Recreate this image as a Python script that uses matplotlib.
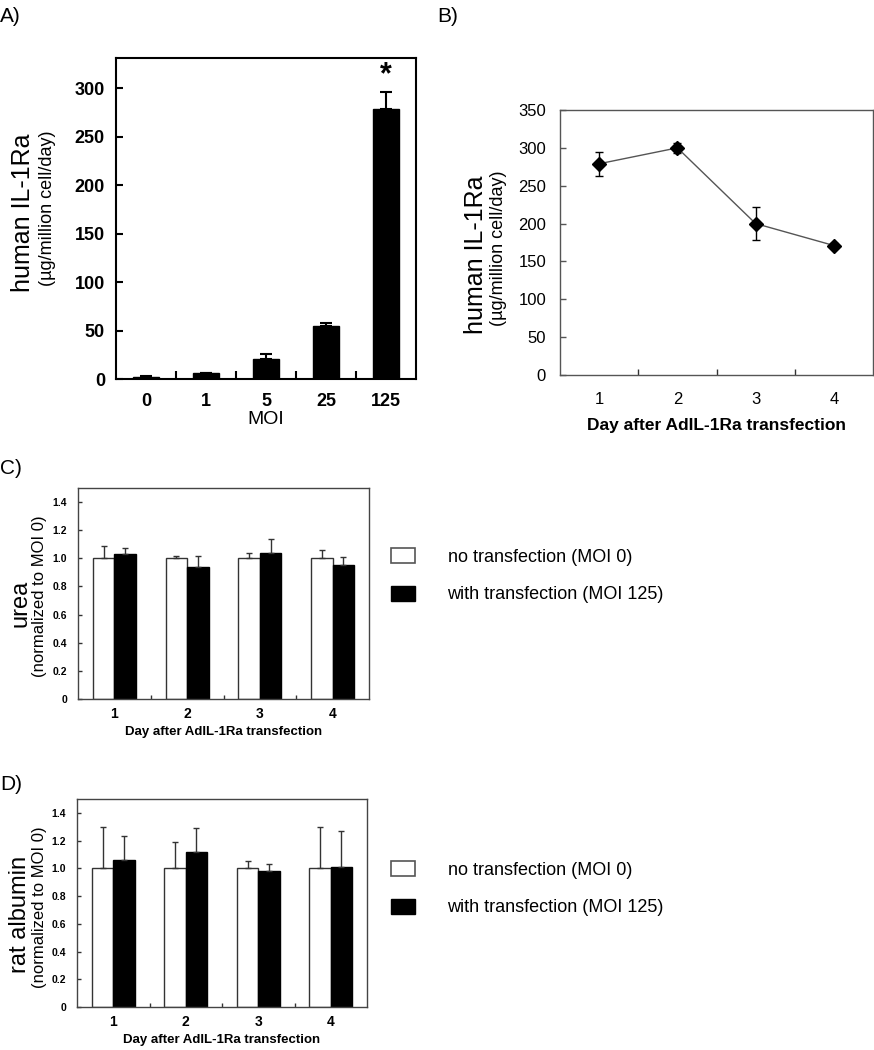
import matplotlib
matplotlib.use("Agg")
import matplotlib.pyplot as plt
from matplotlib.patches import Patch
import numpy as np

plt.rcParams['font.family'] = ['Liberation Sans', 'DejaVu Sans']

W, H = 874, 1050

# ---- data ----
moi_labels = ["0", "1", "5", "25", "125"]
il1ra_moi = [2, 6, 21, 55, 278]
il1ra_moi_err = [1, 0.5, 5, 2.5, 18]

days = [1, 2, 3, 4]
day_labels = ["1", "2", "3", "4"]
il1ra_day = [279, 300, 200, 171]
il1ra_day_err = [16, 7, 22, 3]

urea_ctrl = [1.0, 1.0, 1.0, 1.0]
urea_ctrl_err = [0.09, 0.02, 0.04, 0.06]
urea_trans = [1.03, 0.94, 1.04, 0.95]
urea_trans_err = [0.04, 0.08, 0.10, 0.06]

alb_ctrl = [1.0, 1.0, 1.0, 1.0]
alb_ctrl_err = [0.30, 0.19, 0.05, 0.30]
alb_trans = [1.06, 1.12, 0.98, 1.01]
alb_trans_err = [0.17, 0.17, 0.05, 0.26]

legend_labels = ["no transfection (MOI 0)", "with transfection (MOI 125)"]

fig = plt.figure(figsize=(W / 100, H / 100), dpi=100)


def ax_at(left, top, right, bottom):
    return fig.add_axes([left / W, 1 - bottom / H, (right - left) / W, (bottom - top) / H])


def ftext(px, py, s, **kw):
    fig.text(px / W, 1 - py / H, s, **kw)


# ---- Panel A ----
axA = ax_at(116, 58, 416, 379)
xA = np.arange(len(moi_labels))
axA.bar(xA, il1ra_moi, width=0.42, color='black', edgecolor='black',
        yerr=[np.zeros(len(xA)), il1ra_moi_err], capsize=4.5,
        error_kw=dict(ecolor='black', elinewidth=1.5, capthick=1.5))
axA.set_xlim(-0.5, 4.5)
axA.set_ylim(0, 331)
axA.set_yticks([0, 50, 100, 150, 200, 250, 300])
axA.set_xticks(xA)
axA.set_xticklabels(moi_labels, fontsize=13, fontweight='bold')
axA.set_xticks(np.arange(0.5, 4.0, 1.0), minor=True)
axA.tick_params(axis='x', which='major', length=0, pad=10)
axA.tick_params(axis='x', which='minor', direction='in', length=6, width=1.5)
axA.tick_params(axis='y', direction='in', length=5, width=1.5, pad=8)
for lab in axA.get_yticklabels():
    lab.set_fontsize(13)
    lab.set_fontweight('bold')
for s in axA.spines.values():
    s.set_linewidth(1.5)
axA.set_xlabel("MOI", fontsize=14, labelpad=1)
axA.text(4, il1ra_moi[4] + il1ra_moi_err[4] + 2, "*", ha='center', va='bottom',
         fontsize=22, fontweight='bold')
ftext(23, 213, "human IL-1Ra", rotation=90, ha='center', va='center', fontsize=18)
ftext(48, 208, "(\u00b5g/million cell/day)", rotation=90, ha='center', va='center', fontsize=13)
ftext(0, 17, "A)", ha='left', va='center', fontsize=15)

# ---- Panel B ----
axB = ax_at(560, 110, 873, 375)
axB.errorbar(days, il1ra_day, yerr=il1ra_day_err, fmt='-', color='#555555', lw=1,
             ecolor='black', elinewidth=1, capsize=3, capthick=1, zorder=2)
axB.plot(days, il1ra_day, linestyle='none', marker='D', color='black', markersize=7, zorder=3)
axB.set_xlim(0.5, 4.5)
axB.set_ylim(0, 350)
axB.set_yticks(np.arange(0, 351, 50))
axB.set_xticks(days)
axB.set_xticklabels(day_labels, fontsize=12)
axB.set_xticks([1.5, 2.5, 3.5], minor=True)
axB.tick_params(axis='x', which='major', length=0, pad=12)
axB.tick_params(axis='x', which='minor', direction='in', length=4, width=1, color='#333333')
axB.tick_params(axis='y', direction='in', length=4, width=1, labelsize=12, pad=10, color='#555555')
for s in axB.spines.values():
    s.set_color('#555555')
    s.set_linewidth(1)
axB.set_xlabel("Day after AdIL-1Ra transfection", fontsize=12.5, fontweight='bold', labelpad=8)
ftext(476, 255, "human IL-1Ra", rotation=90, ha='center', va='center', fontsize=18)
ftext(498, 248, "(\u00b5g/million cell/day)", rotation=90, ha='center', va='center', fontsize=13)
ftext(437, 17, "B)", ha='left', va='center', fontsize=15)


# ---- Panels C & D ----
def grouped(ax, ctrl, ctrl_err, trans, trans_err):
    x = np.array(days, dtype=float)
    w = 0.295
    ax.bar(x - w / 2, ctrl, width=w, color='white', edgecolor='#333333', linewidth=1,
           yerr=[np.zeros(len(x)), ctrl_err], capsize=2,
           error_kw=dict(ecolor='#333333', elinewidth=1, capthick=1))
    ax.bar(x + w / 2, trans, width=w, color='black', edgecolor='black', linewidth=1,
           yerr=[np.zeros(len(x)), trans_err], capsize=2,
           error_kw=dict(ecolor='#333333', elinewidth=1, capthick=1))
    ax.set_xlim(0.5, 4.5)
    ax.set_ylim(0, 1.5)
    ax.set_yticks([0, 0.2, 0.4, 0.6, 0.8, 1.0, 1.2, 1.4])
    ax.set_yticklabels(["0", "0.2", "0.4", "0.6", "0.8", "1.0", "1.2", "1.4"],
                       fontsize=7.5, fontweight='bold')
    ax.set_xticks(days)
    ax.set_xticklabels(day_labels, fontsize=10, fontweight='bold')
    ax.set_xticks([1.5, 2.5, 3.5], minor=True)
    ax.tick_params(axis='x', which='major', length=0, pad=6)
    ax.tick_params(axis='x', which='minor', direction='in', length=3, width=1, color='#333333')
    ax.tick_params(axis='y', direction='in', length=3, width=1, pad=8, color='#333333')
    for s in ax.spines.values():
        s.set_color('#444444')
        s.set_linewidth(1)
    ax.set_xlabel("Day after AdIL-1Ra transfection", fontsize=9.5, fontweight='bold', labelpad=3)


axC = ax_at(78, 488, 369, 699)
grouped(axC, urea_ctrl, urea_ctrl_err, urea_trans, urea_trans_err)
ftext(20, 603, "urea", rotation=90, ha='center', va='center', fontsize=17)
ftext(40, 596, "(normalized to MOI 0)", rotation=90, ha='center', va='center', fontsize=12)
ftext(0, 468, "C)", ha='left', va='center', fontsize=15)

axD = ax_at(77, 799, 367, 1007)
grouped(axD, alb_ctrl, alb_ctrl_err, alb_trans, alb_trans_err)
ftext(20, 914, "rat albumin", rotation=90, ha='center', va='center', fontsize=17)
ftext(40, 907, "(normalized to MOI 0)", rotation=90, ha='center', va='center', fontsize=12)
ftext(0, 785, "D)", ha='left', va='center', fontsize=15)

handles = [Patch(facecolor='white', edgecolor='#555555', linewidth=1.2),
           Patch(facecolor='black', edgecolor='black')]
for top in (548, 861):
    fig.legend(handles, legend_labels, loc='upper left',
               bbox_to_anchor=(391 / W, 1 - top / H), frameon=False, fontsize=13,
               handlelength=1.33, handleheight=0.9, handletextpad=1.8,
               labelspacing=1.1, borderpad=0, borderaxespad=0)

fig.savefig("out.png", dpi=100)
